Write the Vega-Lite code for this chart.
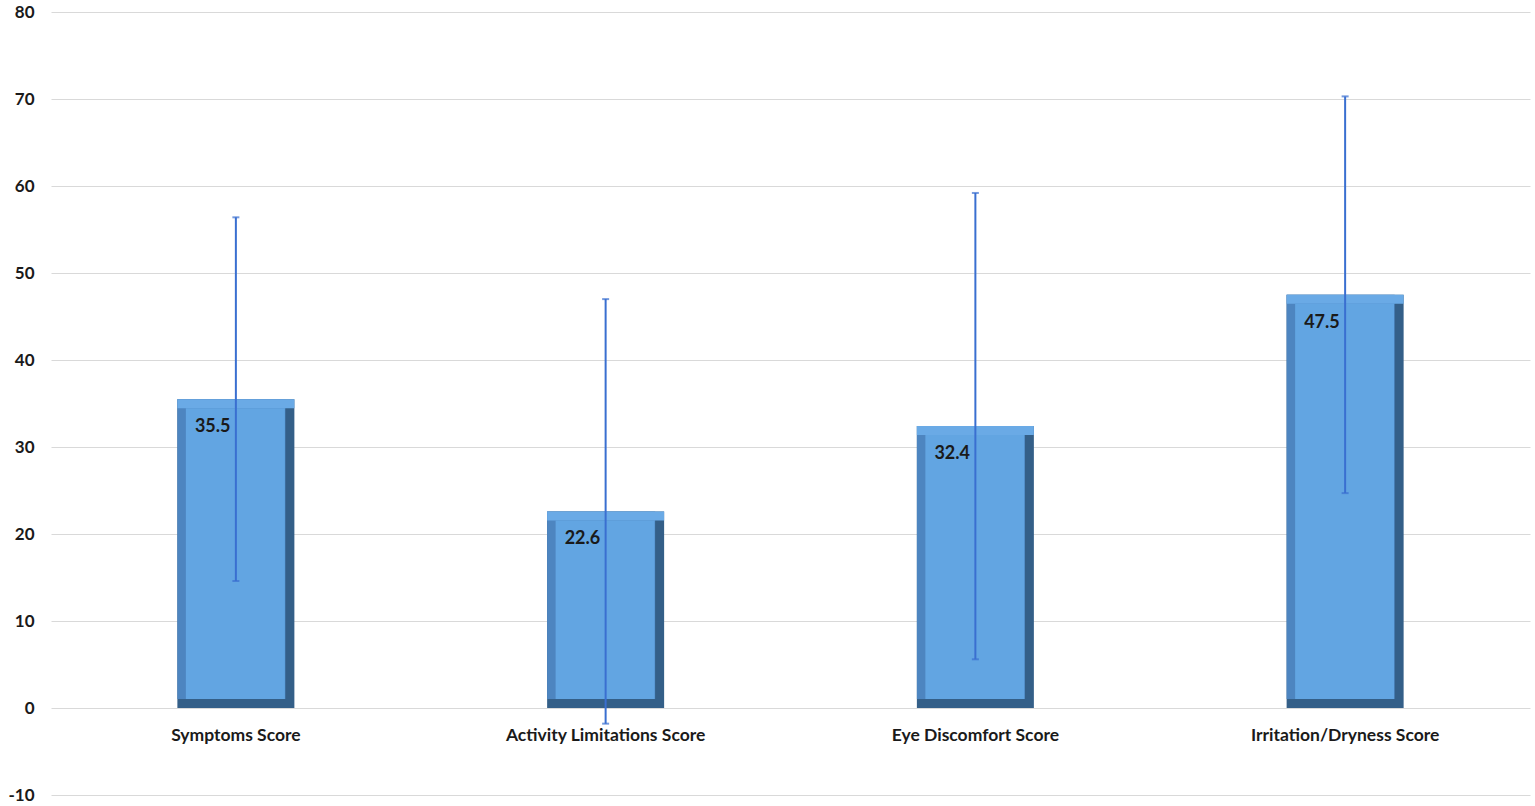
{
  "$schema": "https://vega.github.io/schema/vega-lite/v6.json",
  "width": 1535,
  "height": 806,
  "autosize": {"type": "fit", "contains": "padding"},
  "padding": {"left": 7, "top": 3, "right": 5, "bottom": 3},
  "background": "#ffffff",
  "config": {
    "view": {"stroke": null},
    "font": "Lato"
  },
  "data": {
    "values": [
      {"score": "Symptoms Score", "mean": 35.5, "low": 14.6, "high": 56.4},
      {"score": "Activity Limitations Score", "mean": 22.6, "low": -1.8, "high": 47.0},
      {"score": "Eye Discomfort Score", "mean": 32.4, "low": 5.6, "high": 59.2},
      {"score": "Irritation/Dryness Score", "mean": 47.5, "low": 24.7, "high": 70.3}
    ]
  },
  "encoding": {
    "x": {
      "field": "score",
      "type": "nominal",
      "sort": null,
      "scale": {"paddingInner": 0, "paddingOuter": 0},
      "axis": {
        "title": null,
        "labelAngle": 0,
        "offset": -88,
        "domain": false,
        "ticks": false,
        "labelPadding": 19,
        "labelLimit": 400,
        "labelFont": "Lato",
        "labelFontSize": 17.5,
        "labelFontWeight": "bold",
        "labelColor": "#1a1a1a"
      }
    }
  },
  "layer": [
    {
      "mark": {"type": "bar", "size": 117, "color": "#345f88"},
      "encoding": {
        "y": {
          "field": "mean",
          "type": "quantitative",
          "scale": {"domain": [-10, 80], "nice": false, "zero": false},
          "axis": {
            "title": null,
            "values": [-10, 0, 10, 20, 30, 40, 50, 60, 70, 80],
            "labelExpr": "datum.value + ''",
            "domain": false,
            "ticks": false,
            "grid": true,
            "gridColor": "#d9d9d9",
            "gridWidth": 1,
            "labelPadding": 17,
            "labelFont": "Lato",
            "labelFontSize": 17,
            "labelFontWeight": "bold",
            "labelColor": "#1a1a1a"
          }
        },
        "y2": {"datum": 0}
      }
    },
    {
      "mark": {"type": "bar", "size": 108, "xOffset": -4.5, "y2Offset": -9, "color": "#4d85c0"},
      "encoding": {
        "y": {"field": "mean", "type": "quantitative"},
        "y2": {"datum": 0}
      }
    },
    {
      "mark": {"type": "bar", "size": 117, "y2Offset": 9, "color": "#6aaae6"},
      "encoding": {
        "y": {"field": "mean", "type": "quantitative"},
        "y2": {"field": "mean"}
      }
    },
    {
      "mark": {"type": "bar", "size": 99, "xOffset": -0.5, "yOffset": 9, "y2Offset": -9, "color": "#62a5e2"},
      "encoding": {
        "y": {"field": "mean", "type": "quantitative"},
        "y2": {"datum": 0}
      }
    },
    {
      "mark": {"type": "rule", "color": "#3a6fd0", "strokeWidth": 2},
      "encoding": {
        "y": {"field": "low", "type": "quantitative"},
        "y2": {"field": "high"}
      }
    },
    {
      "mark": {"type": "tick", "color": "#3a6fd0", "size": 7, "thickness": 2},
      "encoding": {"y": {"field": "low", "type": "quantitative"}}
    },
    {
      "mark": {"type": "tick", "color": "#3a6fd0", "size": 7, "thickness": 2},
      "encoding": {"y": {"field": "high", "type": "quantitative"}}
    },
    {
      "mark": {
        "type": "text",
        "align": "left",
        "baseline": "middle",
        "dx": -41,
        "dy": 28,
        "font": "Lato",
        "fontSize": 18,
        "fontWeight": "bold",
        "color": "#1a1a1a"
      },
      "encoding": {
        "y": {"field": "mean", "type": "quantitative"},
        "text": {"field": "mean", "type": "quantitative", "format": ".1f"}
      }
    }
  ]
}
